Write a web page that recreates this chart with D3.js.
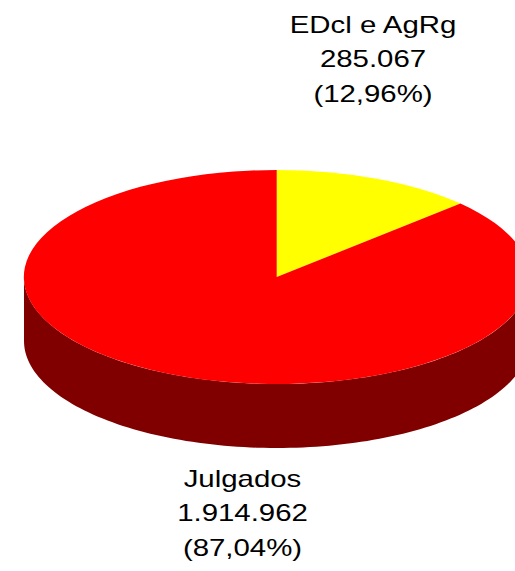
<!DOCTYPE html>
<html>
<head>
<meta charset="utf-8">
<script src="https://cdn.jsdelivr.net/npm/d3@7"></script>
<style>
  html, body { margin: 0; padding: 0; background: #fff; }
  svg { display: block; }
  text { font-family: "Liberation Sans", Arial, sans-serif; font-size: 24px; fill: #000; }
</style>
</head>
<body>
<svg id="chart" width="515" height="571"></svg>
<script>
const categories = ["EDcl e AgRg", "Julgados"];
const values = [285067, 1914962];
const valueLabels = ["285.067", "1.914.962"];
const percentLabels = ["(12,96%)", "(87,04%)"];
const topColors = ["#ffff00", "#ff0000"];
const sideColors = ["#808000", "#800000"];

(function () {
const cx = 276.7, cy = 277, rx = 252.7, ry = 107, depth = 64;

const svg = d3.select("#chart");
const pie = d3.pie().sort(null).value(d => d)(values);

function pt(a, dy) { return [cx + rx * Math.sin(a), cy - ry * Math.cos(a) + (dy || 0)]; }

// side walls (front half only: angles between PI/2 and 3PI/2)
const side = svg.append("g");
pie.forEach((p, i) => {
  const a0 = Math.max(p.startAngle, Math.PI / 2);
  const a1 = Math.min(p.endAngle, 3 * Math.PI / 2);
  if (a1 <= a0) return;
  const n = 120;
  const topPts = d3.range(n + 1).map(k => pt(a0 + (a1 - a0) * k / n, 0));
  const botPts = d3.range(n + 1).map(k => pt(a1 - (a1 - a0) * k / n, depth));
  side.append("path")
    .attr("d", d3.line()(topPts.concat(botPts)) + "Z")
    .attr("fill", sideColors[i]);
});

// top face
const arc = d3.arc().innerRadius(0).outerRadius(1);
const face = svg.append("g").attr("transform", `translate(${cx},${cy}) scale(${rx},${ry})`);
face.selectAll("path").data(pie).join("path")
  .attr("d", arc)
  .attr("fill", (d, i) => topColors[i]);

// labels (horizontally stretched like the reference)
const labelPos = [
  { x: 373, y: 32.7 },
  { x: 242.5, y: 486.7 }
];
const lineH = 34.8;
const sx = 1.225;
pie.forEach((p, i) => {
  const lines = [categories[i], valueLabels[i], percentLabels[i]];
  const t = svg.append("text").attr("text-anchor", "middle")
    .attr("transform", `translate(${labelPos[i].x},${labelPos[i].y}) scale(${sx},1)`);
  lines.forEach((s, j) => {
    t.append("tspan").attr("x", 0).attr("y", j * lineH).text(s);
  });
});
})();
</script>
</body>
</html>
